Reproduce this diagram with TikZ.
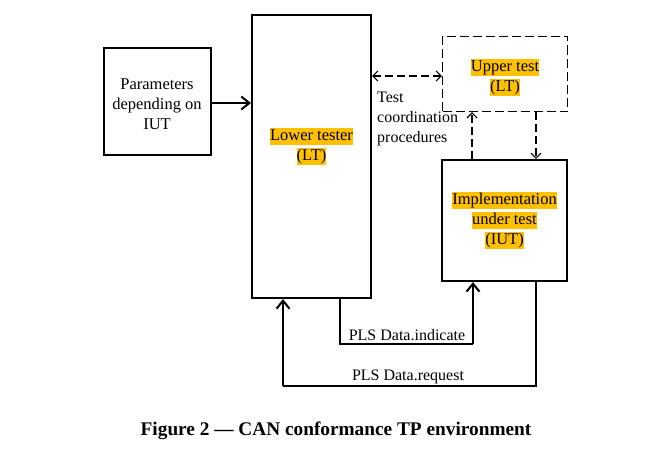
\documentclass[tikz,border=0pt]{standalone}
\usepackage{fontspec}
\setmainfont{Liberation Serif}
\usetikzlibrary{arrows.meta}
\definecolor{hl}{HTML}{FFC000}
\newcommand{\hlt}[1]{{\setlength{\fboxsep}{0pt}\colorbox{hl}{\rule[-4.5pt]{0pt}{17pt}#1}}}
\begin{document}
\begin{tikzpicture}[x=1pt,y=-1pt,
  box/.style={draw=black, line width=2.2pt, fill=white, inner sep=0pt},
  dbox/.style={draw=black, line width=1.4pt, dash pattern=on 9pt off 4pt, fill=white, inner sep=0pt},
  lbl/.style={align=center, inner sep=0pt, font=\fontsize{16.5}{20}\selectfont},
  txt/.style={align=left, inner sep=0pt, font=\fontsize{16}{20}\selectfont},
  conn/.style={line width=2pt, -{Straight Barb[length=8pt,width=13pt,line width=2pt]}},
  plain/.style={line width=2pt},
  dconn/.style={line width=1.3pt, dash pattern=on 8pt off 4pt, -{Straight Barb[length=5pt,width=10pt,line width=1.1pt]}},
  dconn2/.style={line width=1.3pt, dash pattern=on 8pt off 4pt, {Straight Barb[length=5pt,width=10pt,line width=1.1pt]}-{Straight Barb[length=5pt,width=10pt,line width=1.1pt]}}
]
\useasboundingbox (0,0) rectangle (647,452);
\fill[white] (0,0) rectangle (647,452);

% boxes
\node[box, minimum width=107pt, minimum height=107pt] (par) at (157.5,101.5) {};
\node[box, minimum width=119pt, minimum height=283pt] (lt) at (311.5,156.5) {};
\node[dbox, minimum width=125pt, minimum height=75pt] (up) at (505,74) {};
\node[box, minimum width=125pt, minimum height=121pt] (iut) at (504.5,220.5) {};

% texts
\node[lbl] (partxt) at (157,104) {Parameters\\depending on\\IUT};
\node[lbl] (lttxt) at (311.5,146) {\hlt{Lower tester}\\\hlt{(LT)}};
\node[lbl] (uptxt) at (505,77) {\hlt{Upper test}\\\hlt{(LT)}};
\node[lbl] (iuttxt) at (504.5,220.5) {\hlt{Implementation}\\\hlt{under test}\\\hlt{(IUT)}};
\node[txt, anchor=north west] (tcp) at (377,92) {Test\\coordination\\procedures};

% connectors
\draw[conn] (par.east |- 0,103) -- (lt.west |- 0,103);
\coordinate (dl) at (372,76);
\draw[dconn2] (lt.east |- dl) -- (up.west |- dl);
\coordinate (ua) at (472,0);
\coordinate (da) at (536,0);
\draw[dconn] (iut.north -| ua) -- (up.south -| ua);
\draw[dconn] (up.south -| da) -- (iut.north -| da);

\coordinate (i1) at (340,344);
\coordinate (i2) at (473,344);
\draw[plain] (lt.south -| i1) -- (i1) -- (i2);
\draw[conn] (i2) -- (iut.south -| i2);
\coordinate (r1) at (536,386);
\coordinate (r2) at (283,386);
\draw[plain] (iut.south -| r1) -- (r1) -- (r2);
\draw[conn] (r2) -- (lt.south -| r2);

\node[txt, anchor=base] (ind) at (407,340) {PLS Data.indicate};
\node[txt, anchor=base] (req) at (408,380) {PLS Data.request};

% caption
\node[inner sep=0pt, font=\fontsize{19.3}{22}\selectfont\bfseries, anchor=base] (cap) at (336,435) {Figure 2 — CAN conformance TP environment};
\end{tikzpicture}
\end{document}
